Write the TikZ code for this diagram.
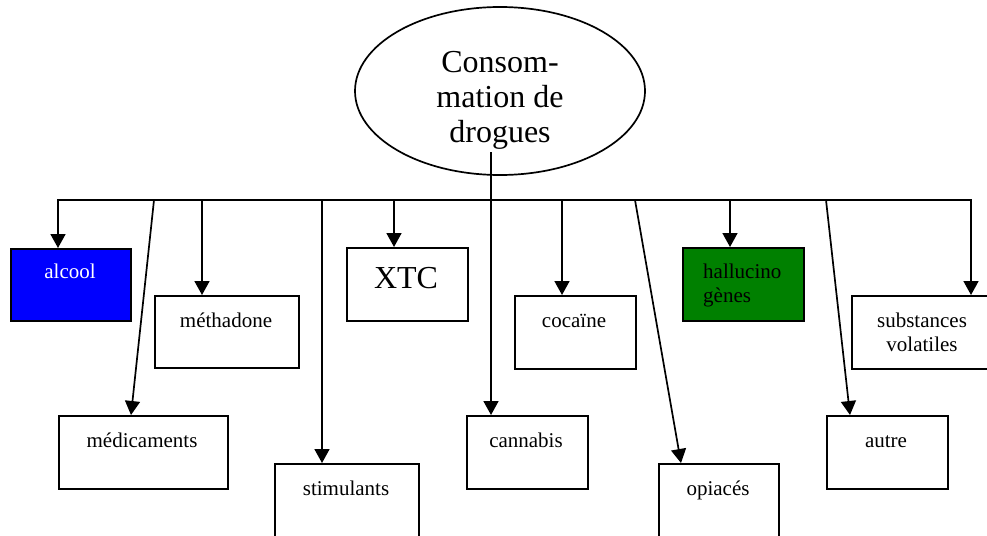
\documentclass[tikz,border=0pt]{standalone}
\usepackage{fontspec}
\setmainfont{Liberation Serif}
\usetikzlibrary{arrows.meta,shapes.geometric}
\definecolor{ablue}{RGB}{0,0,255}
\definecolor{agreen}{RGB}{0,128,0}
\begin{document}
\begin{tikzpicture}[x=1pt,y=-1pt,
  box/.style={draw, line width=2pt, rectangle, inner sep=0pt, anchor=north west},
  lbl/.style={anchor=base, inner sep=0pt, font=\fontsize{21}{24}\selectfont},
  big/.style={font=\fontsize{32}{35}\selectfont},
  conn/.style={line width=1.7pt, -{Triangle[length=14pt,width=15pt]}},
  bus/.style={line width=1.7pt, {Triangle[length=14pt,width=15pt]}-{Triangle[length=14pt,width=15pt]}}
]
\useasboundingbox (0,0) rectangle (987,535);
\clip (0,0) rectangle (987,535);

% root
\node[draw, ellipse, line width=1.7pt, minimum width=290pt, minimum height=168pt, inner sep=0pt] (root) at (500,91) {};
\node[anchor=base, align=center, big, inner sep=0pt] (rootT) at (500,142) {Consom-\\mation de\\drogues};

% boxes
\node[box, fill=ablue, minimum width=120pt, minimum height=72pt] (alcool) at (10,248) {};
\node[box, minimum width=144pt, minimum height=72pt] (metha) at (154,295) {};
\node[box, minimum width=121pt, minimum height=73pt] (xtc) at (346,247) {};
\node[box, minimum width=121pt, minimum height=73pt] (coca) at (514,295) {};
\node[box, fill=agreen, minimum width=121pt, minimum height=73pt] (hall) at (682,247) {};
\node[box, minimum width=142pt, minimum height=73pt] (subst) at (851,295) {};
\node[box, minimum width=169pt, minimum height=73pt] (medic) at (58,415) {};
\node[box, minimum width=144pt, minimum height=100pt] (stim) at (274,463) {};
\node[box, minimum width=121pt, minimum height=73pt] (canna) at (466,415) {};
\node[box, minimum width=120pt, minimum height=100pt] (opia) at (658,463) {};
\node[box, minimum width=121pt, minimum height=73pt] (autre) at (826,415) {};

% labels
\node[lbl, text=white] (alcoolT) at (70,278) {alcool};
\node[lbl] (methaT) at (226,327) {méthadone};
\node[lbl, big] (xtcT) at (406,288) {XTC};
\node[lbl] (cocaT) at (574,327) {cocaïne};
\node[lbl, anchor=base west, align=left] (hallT) at (703,302) {hallucino\\gènes};
\node[lbl, align=center] (substT) at (922,351) {substances\\volatiles};
\node[lbl] (medT) at (142,447) {médicaments};
\node[lbl] (stimT) at (346,495) {stimulants};
\node[lbl] (cannaT) at (526,447) {cannabis};
\node[lbl] (opiaT) at (718,495) {opiacés};
\node[lbl] (autreT) at (886,447) {autre};

% bus coordinates
\coordinate (bA) at (58,200);
\coordinate (bMed) at (154,200);
\coordinate (bMet) at (202,200);
\coordinate (bSti) at (322,200);
\coordinate (bX) at (394,200);
\coordinate (rootS) at (491,152);
\coordinate (bC) at (562,200);
\coordinate (bO) at (635,200);
\coordinate (bH) at (730,200);
\coordinate (bAu) at (826,200);
\coordinate (bS) at (971,200);

% connectors
\draw[bus, line join=miter] (bA |- alcool.north) -- (bA) -- (bS) -- (bS |- subst.north);
\draw[conn] (bMed) -- ([xshift=73pt]medic.north west);
\draw[conn] (bMet) -- (bMet |- metha.north);
\draw[conn] (bSti) -- (bSti |- stim.north);
\draw[conn] (bX) -- (bX |- xtc.north);
\draw[conn] (rootS) -- (rootS |- canna.north);
\draw[conn] (bC) -- (bC |- coca.north);
\draw[conn] (bO) -- ([xshift=23pt]opia.north west);
\draw[conn] (bH) -- (bH |- hall.north);
\draw[conn] (bAu) -- ([xshift=24pt]autre.north west);
\end{tikzpicture}
\end{document}
